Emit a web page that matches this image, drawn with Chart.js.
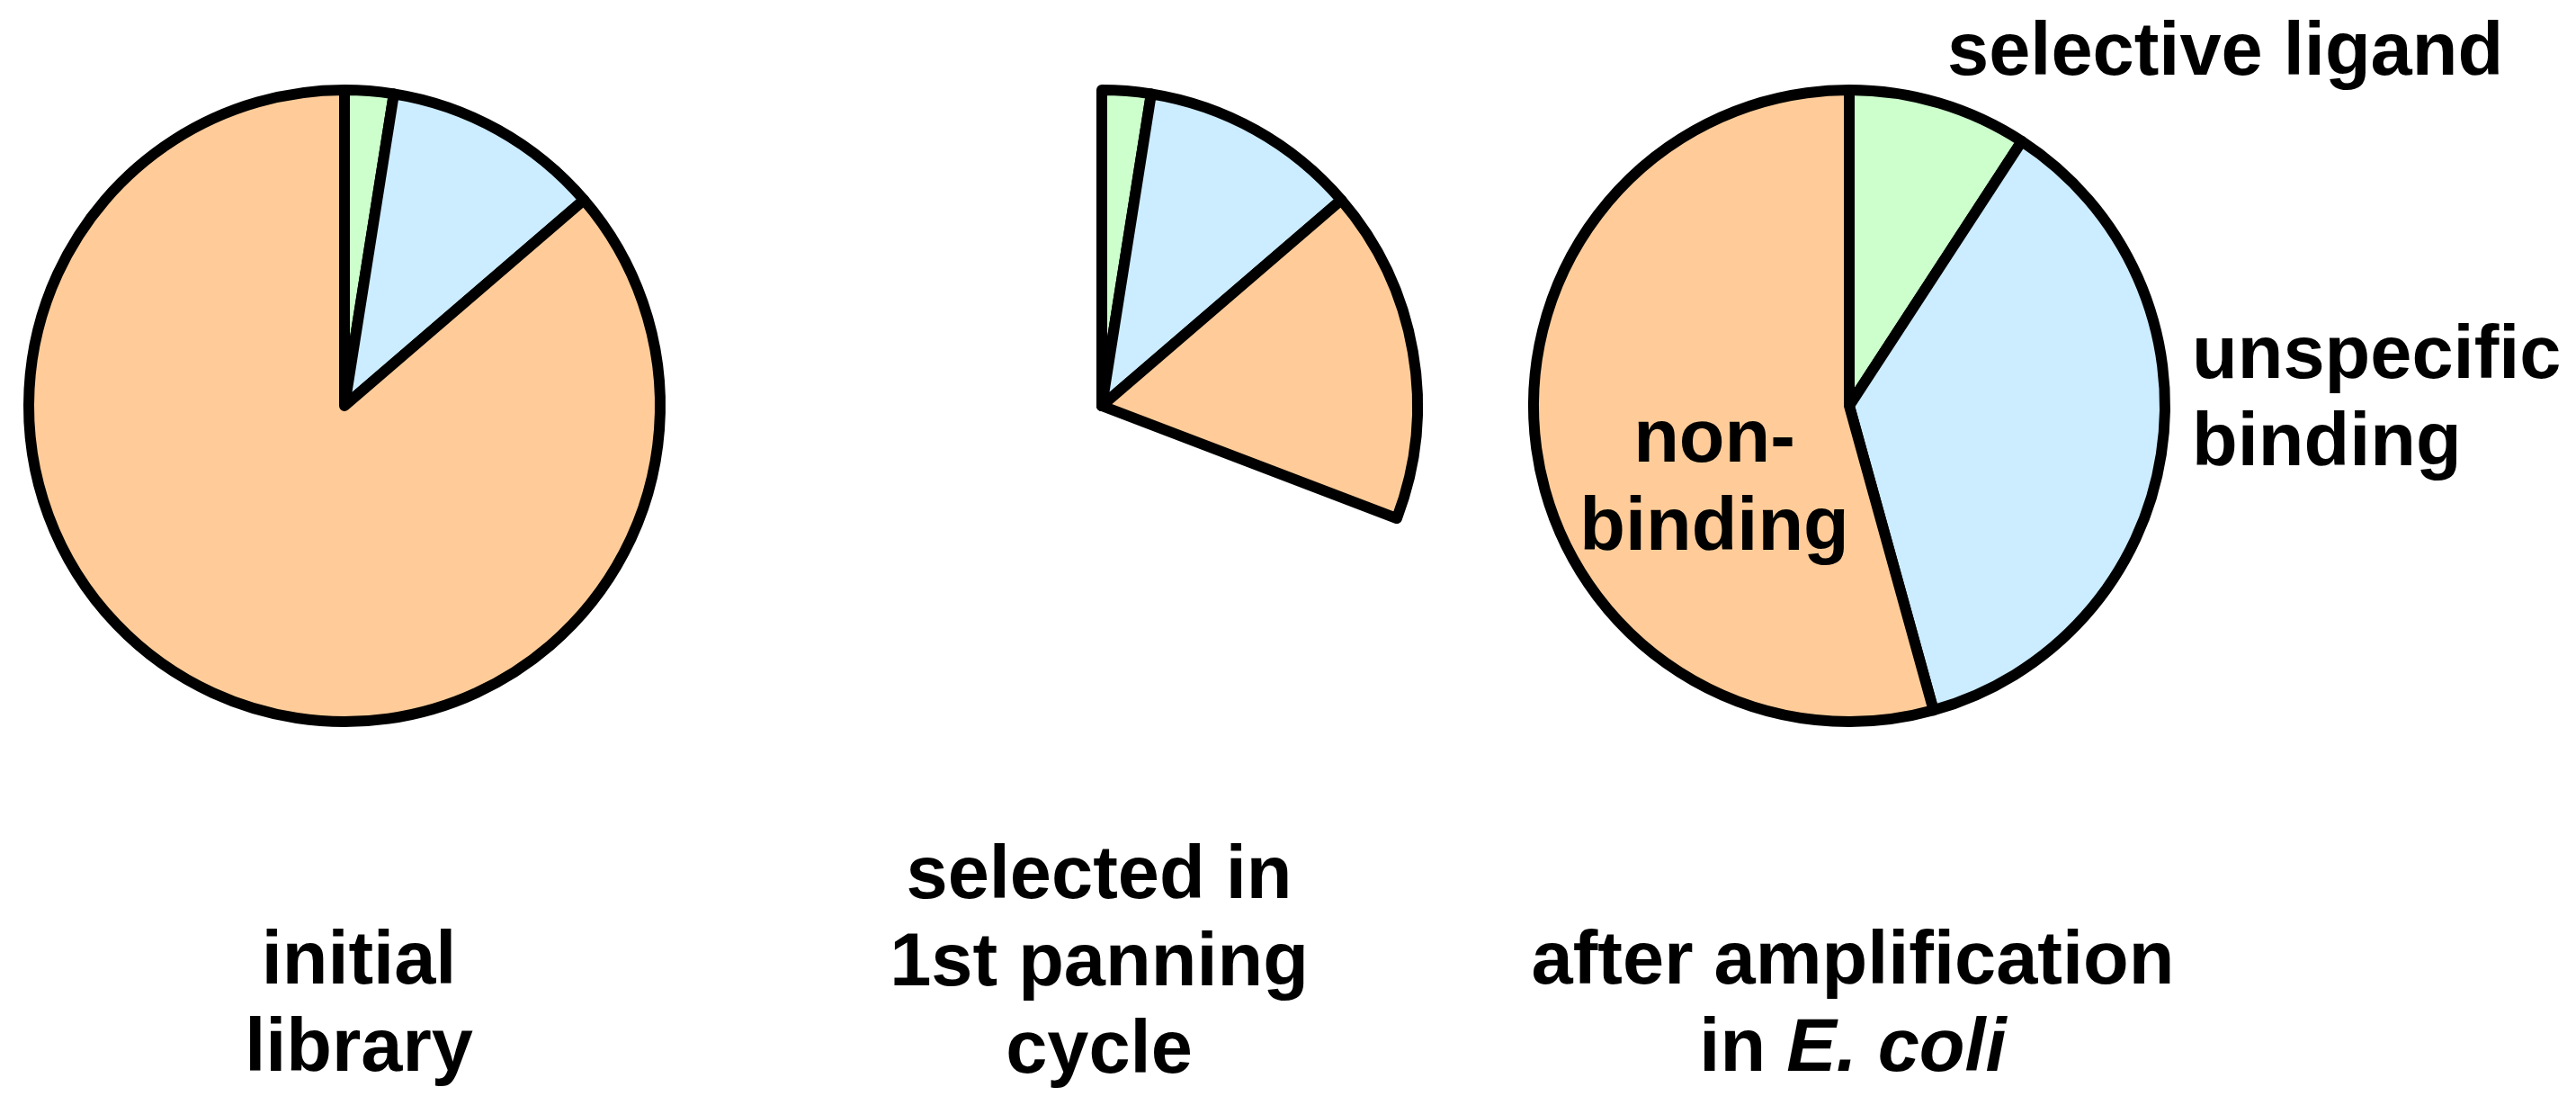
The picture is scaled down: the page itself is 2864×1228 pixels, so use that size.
<!DOCTYPE html>
<html lang="en">
<head>
    <meta charset="UTF-8">
    <title>Phage display selection - pie charts</title>
    <style>
        body {
            margin: 0;
            background-color: #ffffff;
        }
        #stage {
            position: relative;
            width: 2864px;
            height: 1228px;
            overflow: hidden;
            background-color: #ffffff;
            font-family: 'Liberation Sans', Arial, sans-serif;
            font-weight: bold;
            font-size: 83px;
            line-height: 97px;
            color: #000000;
        }
        canvas {
            position: absolute;
        }
        .label {
            position: absolute;
            white-space: nowrap;
        }
        .center {
            text-align: center;
            transform: translateX(-50%);
        }
    </style>
    <script src="https://cdn.jsdelivr.net/npm/chart.js"></script>
</head>
<body>
    <div id="stage">
        <canvas id="pieInitial" width="760" height="760" style="left:3px; top:71px;"></canvas>
        <canvas id="pieSelected" width="760" height="760" style="left:845px; top:71px;"></canvas>
        <canvas id="pieAmplified" width="760" height="760" style="left:1676px; top:71px;"></canvas>

        <div class="label center" style="left:399px; top:1016px;">initial<br>library</div>
        <div class="label center" style="left:1222px; top:921px;">selected in<br>1st panning<br>cycle</div>
        <div class="label center" style="left:2060px; top:1016px;">after amplification<br>in <i>E. coli</i></div>

        <div class="label" style="left:2165px; top:6px;">selective ligand</div>
        <div class="label" style="left:2437px; top:343px;">unspecific<br>binding</div>
        <div class="label center" style="left:1906px; top:436px; line-height:97.5px;">non-<br>binding</div>
    </div>

    <script>
        // fractions in % of the initial library
        const categories = ['selective ligand', 'unspecific binding', 'non-binding'];
        const initialLibrary = [2.5, 11.2, 86.3];
        const selectedPanning = [2.5, 11.2, 17.1];       // what is left after the 1st panning
        const afterAmplification = [9.2, 36.5, 54.3];

        const sliceColors = ['#ccffcc', '#ccecff', '#ffcc99'];

        function makePie(id, values, showRest) {
            let data = values.slice();
            let colors = sliceColors.slice();
            let borders = [12, 12, 12];
            let labels = categories.slice();
            if (showRest) {
                // the removed part of the library stays as an invisible slice
                const used = values.reduce((a, b) => a + b, 0);
                data.push(100 - used);
                colors.push('rgba(0,0,0,0)');
                borders.push(0);
                labels.push('removed');
            }
            const ctx = document.getElementById(id).getContext('2d');
            return new Chart(ctx, {
                type: 'pie',
                data: {
                    labels: labels,
                    datasets: [{
                        data: data,
                        backgroundColor: colors,
                        borderColor: '#000000',
                        borderWidth: borders,
                        borderJoinStyle: 'round'
                    }]
                },
                options: {
                    responsive: false,
                    animation: false,
                    radius: 351,
                    events: [],
                    layout: { padding: 0 },
                    plugins: {
                        legend: { display: false },
                        tooltip: { enabled: false },
                        title: { display: false }
                    }
                }
            });
        }

        makePie('pieInitial', initialLibrary, false);
        makePie('pieSelected', selectedPanning, true);
        makePie('pieAmplified', afterAmplification, false);
    </script>
</body>
</html>
